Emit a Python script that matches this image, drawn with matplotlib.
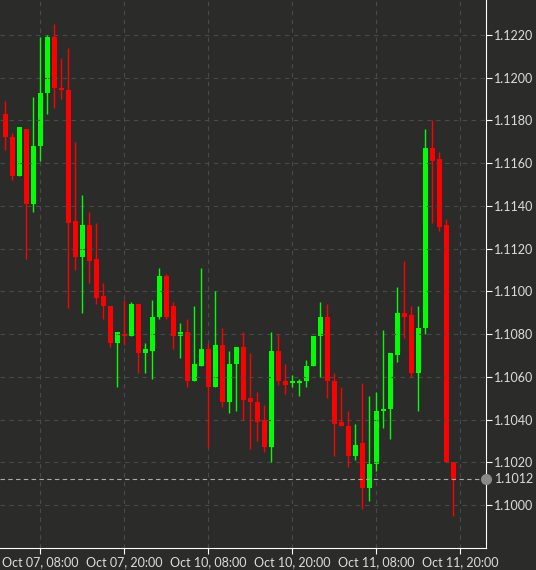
import matplotlib.pyplot as plt

plt.rcParams['font.family'] = ['Lato', 'DejaVu Sans']

# hourly candles
opens = [1.1183, 1.1172, 1.1154, 1.1176, 1.1141, 1.1168, 1.1193, 1.1219, 1.1195, 1.1194,
         1.1133, 1.1116, 1.1131, 1.1115, 1.1098, 1.1093, 1.1076, 1.1080, 1.1079, 1.1094,
         1.1071, 1.1072, 1.1088, 1.1107, 1.1093, 1.1079, 1.1081, 1.1058, 1.1065, 1.1073,
         1.1055, 1.1075, 1.1048, 1.1066, 1.1074, 1.1050, 1.1048, 1.1040, 1.1027, 1.1072,
         1.1058, 1.1057, 1.1057, 1.1058, 1.1065, 1.1079, 1.1088, 1.1058, 1.1039, 1.1037,
         1.1023, 1.1029, 1.1008, 1.1019, 1.1044, 1.1045, 1.1070, 1.1090, 1.1089, 1.1062,
         1.1083, 1.1167, 1.1162, 1.1131, 1.1020]
closes = [1.1172, 1.1154, 1.1177, 1.1141, 1.1168, 1.1193, 1.1219, 1.1195, 1.1194, 1.1132,
          1.1116, 1.1131, 1.1114, 1.1097, 1.1093, 1.1076, 1.1081, 1.1079, 1.1094, 1.1071,
          1.1073, 1.1088, 1.1107, 1.1088, 1.1079, 1.1081, 1.1058, 1.1066, 1.1073, 1.1055,
          1.1075, 1.1048, 1.1066, 1.1074, 1.1049, 1.1048, 1.1039, 1.1027, 1.1072, 1.1058,
          1.1056, 1.1058, 1.1058, 1.1065, 1.1079, 1.1088, 1.1058, 1.1038, 1.1037, 1.1023,
          1.1028, 1.1008, 1.1019, 1.1044, 1.1045, 1.1071, 1.1090, 1.1088, 1.1062, 1.1083,
          1.1167, 1.1161, 1.1130, 1.1020, 1.1012]
highs = [1.1189, 1.1174, 1.1177, 1.1176, 1.1191, 1.1219, 1.1220, 1.1225, 1.1209, 1.1214,
         1.1170, 1.1145, 1.1137, 1.1132, 1.1104, 1.1093, 1.1081, 1.1096, 1.1095, 1.1094,
         1.1076, 1.1096, 1.1111, 1.1108, 1.1095, 1.1085, 1.1087, 1.1093, 1.1111, 1.1076,
         1.1100, 1.1083, 1.1072, 1.1074, 1.1081, 1.1071, 1.1053, 1.1047, 1.1081, 1.1080,
         1.1066, 1.1061, 1.1059, 1.1068, 1.1079, 1.1095, 1.1094, 1.1062, 1.1055, 1.1044,
         1.1038, 1.1057, 1.1051, 1.1053, 1.1082, 1.1071, 1.1102, 1.1114, 1.1093, 1.1093,
         1.1176, 1.1180, 1.1165, 1.1134, 1.1020]
lows = [1.1166, 1.1152, 1.1154, 1.1115, 1.1137, 1.1161, 1.1183, 1.1186, 1.1190, 1.1092,
        1.1110, 1.1090, 1.1104, 1.1094, 1.1087, 1.1074, 1.1055, 1.1075, 1.1079, 1.1062,
        1.1062, 1.1059, 1.1087, 1.1087, 1.1073, 1.1069, 1.1055, 1.1058, 1.1065, 1.1027,
        1.1055, 1.1046, 1.1043, 1.1044, 1.1040, 1.1026, 1.1030, 1.1025, 1.1020, 1.1056,
        1.1052, 1.1055, 1.1051, 1.1055, 1.1065, 1.1060, 1.1050, 1.1023, 1.1037, 1.1018,
        1.1021, 1.0998, 1.1002, 1.1016, 1.1036, 1.1031, 1.1067, 1.1078, 1.1060, 1.1044,
        1.1080, 1.1132, 1.1128, 1.1020, 1.0995]
last_price = 1.1012
tick_pos = [5, 17, 29, 41, 53, 65]
tick_labels = ['Oct 07, 08:00', 'Oct 07, 20:00', 'Oct 10, 08:00',
               'Oct 10, 20:00', 'Oct 11, 08:00', 'Oct 11, 20:00']
price_ticks = [1.1000 + 0.002 * k for k in range(12)]

bg = '#2b2c2a'
fig = plt.figure(figsize=(5.36, 5.70), dpi=100, facecolor=bg)
ax = fig.add_axes([0, 22 / 570, 486 / 536, 548 / 570], facecolor=bg)

for i in range(len(opens)):
    o, c, h, l = opens[i], closes[i], highs[i], lows[i]
    col = '#00ff00' if c >= o else '#ff0000'
    ax.vlines(i, l, h, color=col, linewidth=1)
    ax.bar(i, max(abs(c - o), 0.00008), bottom=min(o, c), width=0.72, color=col, linewidth=0)

ax.set_xlim(-0.72, 68.7)
ax.set_ylim(1.09799, 1.12363)
ax.yaxis.tick_right()
ax.set_yticks(price_ticks)
ax.set_yticklabels([f'{v:.4f}' for v in price_ticks])
ax.set_xticks(tick_pos)
ax.set_xticklabels(tick_labels)
ax.tick_params(colors='white', labelcolor='#dddddd', labelsize=9, length=4, pad=2)
ax.grid(True, color='#4a4a48', linestyle=(0, (4, 4)), linewidth=0.8)
for s in ['top', 'left']:
    ax.spines[s].set_visible(False)
for s in ['right', 'bottom']:
    ax.spines[s].set_color('white')

ax.axhline(last_price, color='#aaaaaa', linestyle=(0, (4, 3)), linewidth=0.8)
ax.plot([68.7], [last_price], 'o', color='#8a8a8a', markersize=7, clip_on=False, zorder=5)
ax.text(1.018, last_price, f'{last_price:.4f}', transform=ax.get_yaxis_transform(),
        va='center', ha='left', color='#dddddd', fontsize=9)

fig.savefig('out.png', dpi=100, facecolor=bg)
